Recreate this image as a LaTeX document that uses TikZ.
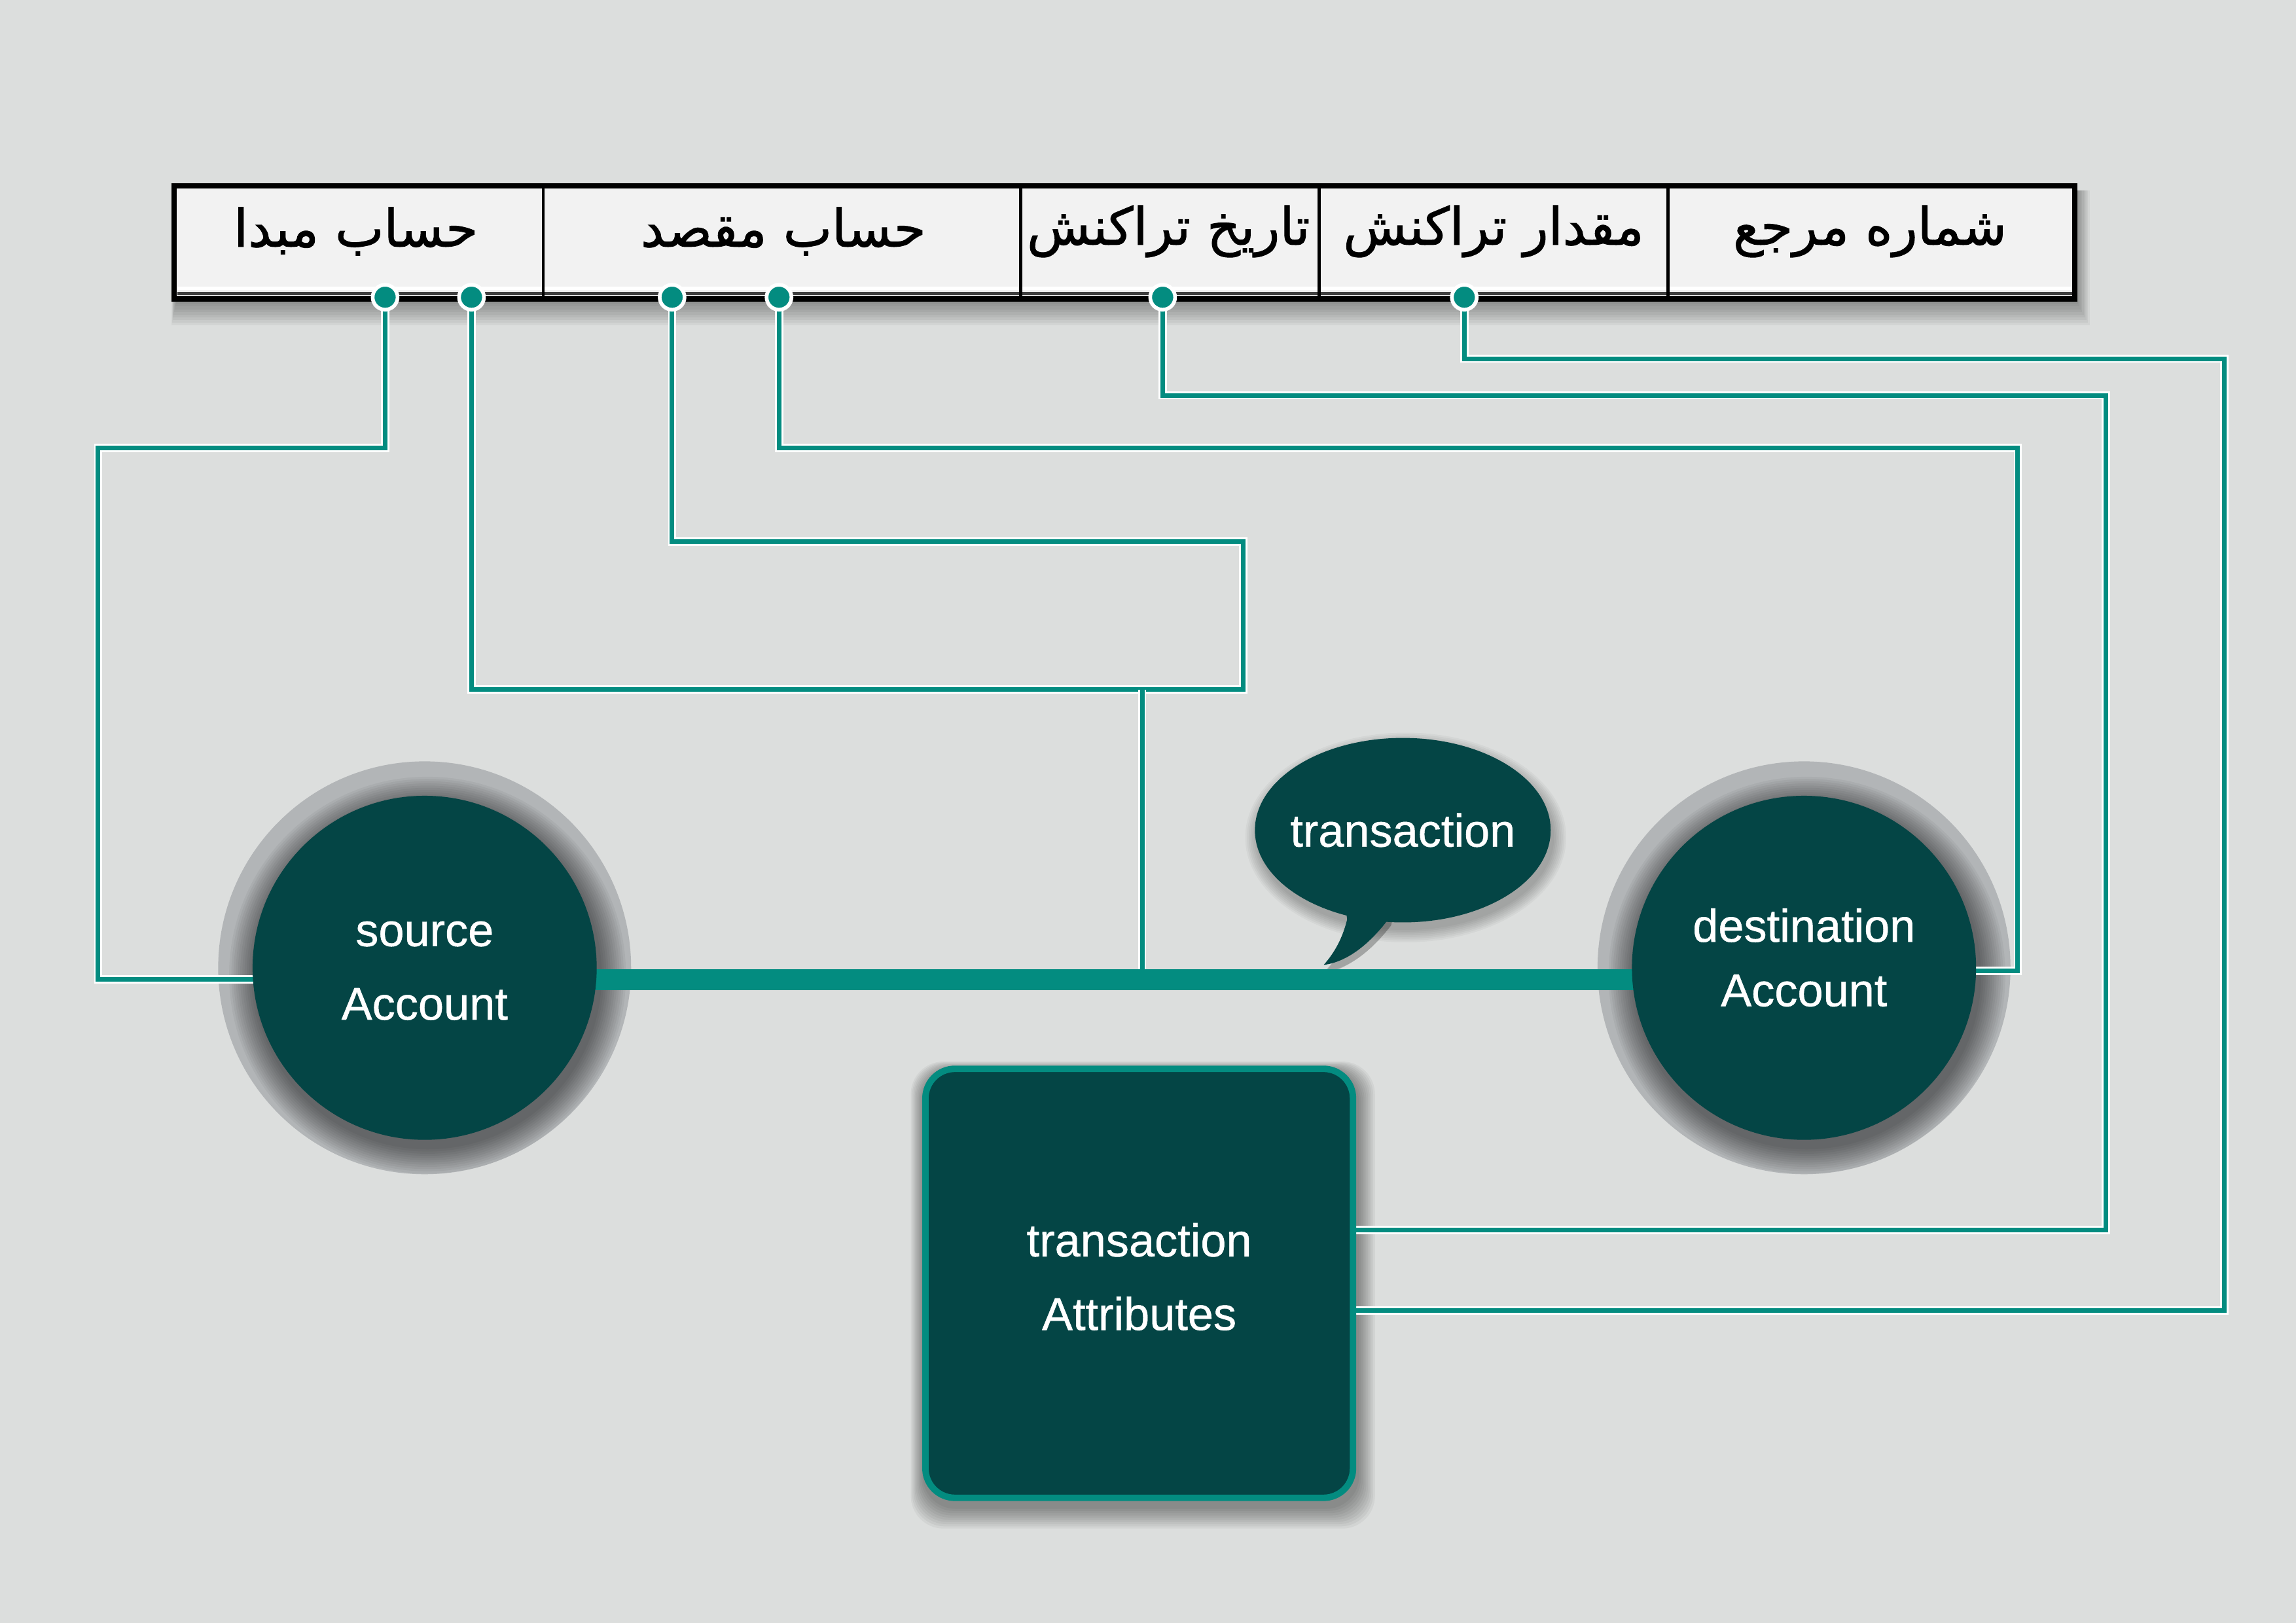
\documentclass[tikz,border=0pt]{standalone}
\usepackage{fontspec}
\setmainfont{Liberation Sans}
\newfontfamily\latf[FakeBold=0.7]{Liberation Sans}
\newfontfamily\arabicfont[Script=Arabic,FakeBold=1.3]{DejaVu Sans}
\TeXXeTstate=1
\usetikzlibrary{shapes.geometric}
\definecolor{bgc}{RGB}{220,222,221}
\definecolor{tealc}{RGB}{3,140,128}
\definecolor{darkc}{RGB}{4,69,69}
\definecolor{ringc}{RGB}{178,181,183}
\definecolor{cellc}{RGB}{242,242,242}
\pgfdeclarelayer{back}
\pgfdeclarelayer{mid}
\pgfsetlayers{back,mid,main}
\def\pxu{0.022372cm}
\begin{document}
\begin{tikzpicture}[x=0.022372cm,y=-0.022372cm,
  link/.style={draw=white,double=tealc,line width=0.8pt,double distance=2pt},
  dotn/.style={circle,fill=tealc,draw=white,line width=1.6pt,minimum size={17*\pxu},inner sep=0pt},
  hdr/.style={font=\arabicfont\fontsize{22.5}{26}\selectfont,text=black,inner sep=0pt},
  acc/.style={circle,fill=darkc,minimum size={235*\pxu},inner sep=0pt},
  lab/.style={text=white,align=center,inner sep=0pt,font=\latf\fontsize{20}{32}\selectfont},
  attrbox/.style={rectangle,rounded corners=0.45cm,draw=tealc,line width=2.8pt,fill=darkc,
     minimum width={292*\pxu},minimum height={293*\pxu},inner sep=0pt},
  bubn/.style={ellipse,fill=darkc,minimum width={202*\pxu},minimum height={126*\pxu},inner sep=0pt},
  shd/.style={black,opacity=0.045}
]
\useasboundingbox (0,0) rectangle (1568,1108.5);
\begin{pgfonlayer}{back}
\fill[bgc] (0,0) rectangle (1568,1108.5);
% table shadow
\foreach \k in {1,...,10}
  \fill[shd,opacity=0.045] ({119+2-\k*0.4},{130}) rectangle ({1417+\k*1.0},{204+\k*1.8});
% table frame
\fill[cellc] (119,127) rectangle (1417,204);
\draw[white,line width=1.4pt] (121,197) -- (1415,197);
\draw[black!75,line width=1.2pt] (121,200.5) -- (1415,200.5);
\foreach \cx in {371,697,901,1139} \draw[black,line width=1.3pt] (\cx,127) -- (\cx,204);
\draw[black,line width=2.4pt] (119,127) rectangle (1417,204);
% rings
\fill[ringc] (290,661) circle[radius=141];
\fill[ringc] (1232,661) circle[radius=141];
% circle shadows
\foreach \k in {1,...,12} {
  \fill[shd] (292,666) circle[radius={117.5+1.5*\k}];
  \fill[shd] (1234,666) circle[radius={117.5+1.5*\k}];
}
% bubble shadow
\foreach \k in {1,...,8} {
  \fill[shd,opacity=0.035] (960,572) ellipse[x radius={100+1.2*\k},y radius={62+1.2*\k}];
  \fill[shd,opacity=0.035] (920,615) -- (922,632) .. controls (919,644) and (914,654) .. ({906-\k*0.6},{663+\k*0.5})
    .. controls (922,661) and (937,649) .. (950,632) -- (954,615) -- cycle;
}
% box shadow
\foreach \k in {1,...,10}
  \fill[shd,opacity=0.045,rounded corners=0.5cm] ({630+1-\k*0.9},{728+3-\k*0.6}) rectangle ({926+1+\k*1.2},{1025+4+\k*1.5});
\end{pgfonlayer}

% headers
\node[hdr] (h1) at (243,158) {\beginR حساب مبدا\endR};
\node[hdr] (h2) at (535,158) {\beginR حساب مقصد\endR};
\node[hdr] (h3) at (798,158) {\beginR تاریخ تراکنش\endR};
\node[hdr] (h4) at (1020,158) {\beginR مقدار تراکنش\endR};
\node[hdr] (h5) at (1277,158) {\beginR شماره مرجع\endR};

% dots
\node[dotn] (d1) at (263,203) {};
\node[dotn] (d2) at (322,203) {};
\node[dotn] (d3) at (459,203) {};
\node[dotn] (d4) at (532,203) {};
\node[dotn] (d5) at (794,203) {};
\node[dotn] (d6) at (1000,203) {};

% accounts
\node[acc] (src) at (290,661) {};
\node[acc] (dst) at (1232,661) {};
\node[lab] (srct) at (290,663) {source\\Account};
\node[lab,font=\latf\fontsize{20}{28}\selectfont] (dstt) at (1232,654) {destination\\Account};

% bubble
\node[bubn] (bub) at (958,567) {};
\fill[darkc] (918,612) -- (920,628) .. controls (917,640) and (912,650) .. (904,659)
  .. controls (920,657) and (935,645) .. (948,628) -- (952,612) -- cycle;
\node[lab] (bubt) at (958,567) {transaction};

% attributes box
\node[attrbox] (attr) at (778,876.5) {};
\node[lab] (attrt) at (778,872) {transaction\\Attributes};

\coordinate (j) at (780,471);
\begin{pgfonlayer}{mid}
\draw[link] (d1.center) -- (263,306) -- (67,306) -- (67,669) -- (src.center |- 0,669);
\draw[link] (d2.center) -- (322,471) -- (849,471) -- (849,370) -- (459,370) -- (d3.center);
\draw[link] (j) -- (j |- 0,669);
\draw[link] (d4.center) -- (532,306) -- (1378,306) -- (1378,663) -- (dst.center |- 0,663);
\draw[link] (d5.center) -- (794,270) -- (1438,270) -- (1438,840) -- (attr.center |- 0,840);
\draw[link] (d6.center) -- (1000,245) -- (1519,245) -- (1519,895) -- (attr.center |- 0,895);
\draw[tealc,line width=9.2pt] (src.center |- 0,669) -- (dst.center |- 0,669);
\end{pgfonlayer}
\end{tikzpicture}
\end{document}
